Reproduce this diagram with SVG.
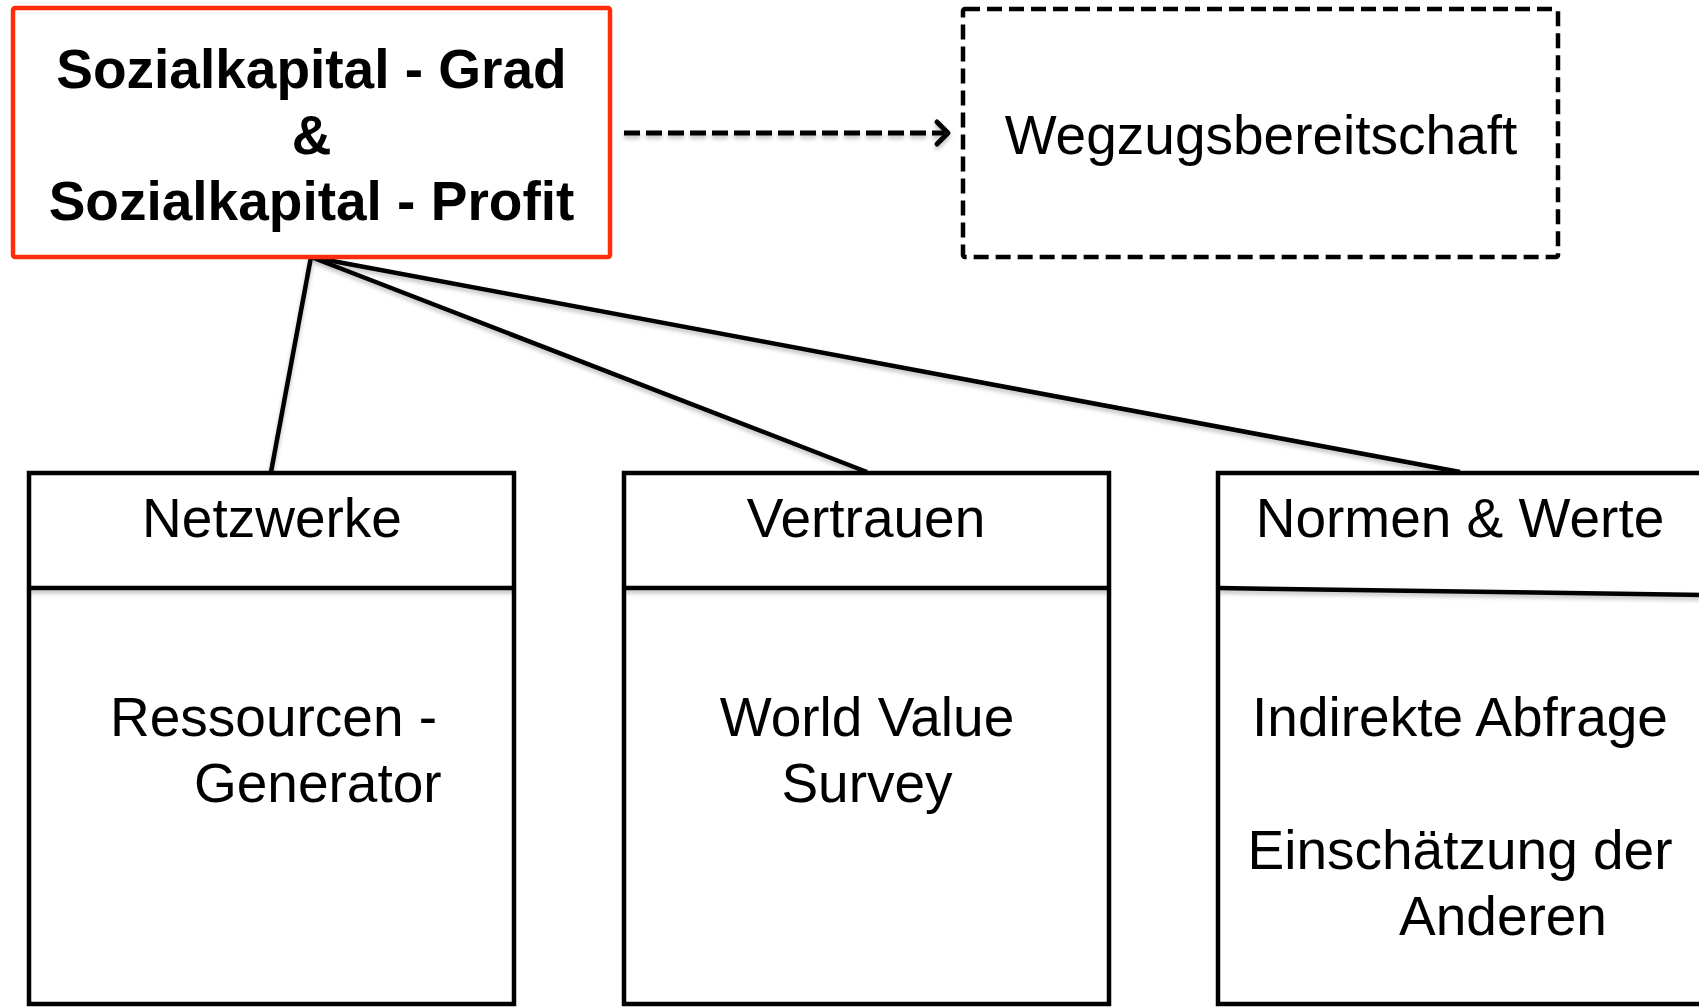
<svg xmlns="http://www.w3.org/2000/svg" width="1699" height="1007" viewBox="0 0 1699 1007">
<defs>
<style>
.t{font-family:"Liberation Sans",Arial,sans-serif;font-size:55px;fill:#000}
.b{font-family:"Liberation Sans",Arial,sans-serif;font-size:55px;font-weight:bold;fill:#000}
.box{fill:#fff;stroke:#000;stroke-width:4.5}
.ln{stroke:#000;stroke-width:4.5;fill:none}
</style>
<filter id="sh" filterUnits="userSpaceOnUse" x="0" y="0" width="1699" height="1007">
<feDropShadow dx="0" dy="3" stdDeviation="2" flood-color="#000" flood-opacity="0.25"/>
</filter>
</defs>
<rect width="1699" height="1007" fill="#fff"/>
<g id="connectors" filter="url(#sh)">
<line class="ln" x1="311" y1="257" x2="271" y2="472"/>
<line class="ln" x1="311" y1="257" x2="867" y2="472"/>
<line class="ln" x1="311" y1="257" x2="1460" y2="472"/>
<line x1="624" y1="133" x2="944" y2="133" stroke="#000" stroke-width="5" stroke-dasharray="16 6"/>
<path d="M937,122 L948,133 L937,144" fill="none" stroke="#000" stroke-width="5" stroke-linecap="round" stroke-linejoin="round"/>
</g>
<g id="node-sozialkapital">
<rect x="13" y="8" width="597" height="249" rx="2" fill="#fff" stroke="#ff2d0a" stroke-width="4.5"/>
<text class="b" x="311.5" y="88" text-anchor="middle">Sozialkapital - Grad</text>
<text class="b" x="311.5" y="154" text-anchor="middle">&amp;</text>
<text class="b" x="311.5" y="220" text-anchor="middle">Sozialkapital - Profit</text>
</g>
<g id="node-wegzug">
<rect x="963" y="9" width="595" height="248" rx="2" fill="#fff" stroke="#000" stroke-width="4.5" stroke-dasharray="15 7"/>
<text class="t" x="1261" y="154" text-anchor="middle">Wegzugsbereitschaft</text>
</g>
<g id="node-netzwerke">
<rect class="box" x="29" y="473" width="485" height="531"/>
<line class="ln" x1="29" y1="588" x2="514" y2="588" filter="url(#sh)"/>
<text class="t" x="272" y="537" text-anchor="middle">Netzwerke</text>
<text class="t" x="110" y="736">Ressourcen -</text>
<text class="t" x="194" y="802">Generator</text>
</g>
<g id="node-vertrauen">
<rect class="box" x="624" y="473" width="485" height="531"/>
<line class="ln" x1="624" y1="588" x2="1109" y2="588" filter="url(#sh)"/>
<text class="t" x="866" y="537" text-anchor="middle">Vertrauen</text>
<text class="t" x="867" y="736" text-anchor="middle">World Value</text>
<text class="t" x="867" y="802" text-anchor="middle">Survey</text>
</g>
<g id="node-normen">
<rect class="box" x="1218" y="473" width="490" height="531"/>
<line class="ln" x1="1218" y1="588" x2="1705" y2="595" filter="url(#sh)"/>
<text class="t" x="1460" y="537" text-anchor="middle">Normen &amp; Werte</text>
<text class="t" x="1460" y="736" text-anchor="middle">Indirekte Abfrage</text>
<text class="t" x="1460" y="869" text-anchor="middle">Einschätzung der</text>
<text class="t" x="1503" y="935" text-anchor="middle">Anderen</text>
</g>
</svg>
